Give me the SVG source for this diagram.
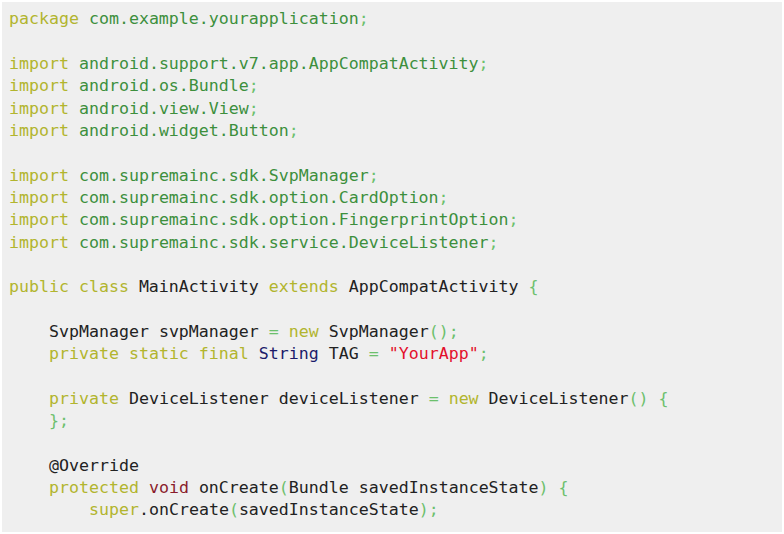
<svg xmlns="http://www.w3.org/2000/svg" width="784" height="534" viewBox="0 0 784 534">
<style>
text{font-family:"DejaVu Sans Mono","Liberation Mono",monospace;font-size:16.6px;fill:#222;white-space:pre}
.k{fill:#b2b52e}.p{fill:#3d8f3d}.o{fill:#6cc06c}.t{fill:#1b1b6a}.s{fill:#e3102c}.v{fill:#8a1c2c}
</style>
<rect x="2" y="2" width="780" height="530" fill="#efefef"/>
<g id="code" xml:space="preserve">
<text x="9" y="24"><tspan class="k">package</tspan> <tspan class="p">com.example.yourapplication</tspan><tspan class="o">;</tspan></text>
<text x="9" y="69"><tspan class="k">import</tspan> <tspan class="p">android.support.v7.app.AppCompatActivity</tspan><tspan class="o">;</tspan></text>
<text x="9" y="91"><tspan class="k">import</tspan> <tspan class="p">android.os.Bundle</tspan><tspan class="o">;</tspan></text>
<text x="9" y="114"><tspan class="k">import</tspan> <tspan class="p">android.view.View</tspan><tspan class="o">;</tspan></text>
<text x="9" y="136"><tspan class="k">import</tspan> <tspan class="p">android.widget.Button</tspan><tspan class="o">;</tspan></text>
<text x="9" y="181"><tspan class="k">import</tspan> <tspan class="p">com.supremainc.sdk.SvpManager</tspan><tspan class="o">;</tspan></text>
<text x="9" y="203"><tspan class="k">import</tspan> <tspan class="p">com.supremainc.sdk.option.CardOption</tspan><tspan class="o">;</tspan></text>
<text x="9" y="225"><tspan class="k">import</tspan> <tspan class="p">com.supremainc.sdk.option.FingerprintOption</tspan><tspan class="o">;</tspan></text>
<text x="9" y="248"><tspan class="k">import</tspan> <tspan class="p">com.supremainc.sdk.service.DeviceListener</tspan><tspan class="o">;</tspan></text>
<text x="9" y="292"><tspan class="k">public class</tspan> MainActivity <tspan class="k">extends</tspan> AppCompatActivity <tspan class="o">{</tspan></text>
<text x="49" y="337">SvpManager svpManager <tspan class="o">=</tspan> <tspan class="k">new</tspan> SvpManager<tspan class="o">();</tspan></text>
<text x="49" y="359"><tspan class="k">private static final</tspan> <tspan class="t">String</tspan> TAG <tspan class="o">=</tspan> <tspan class="s">"YourApp"</tspan><tspan class="o">;</tspan></text>
<text x="49" y="404"><tspan class="k">private</tspan> DeviceListener deviceListener <tspan class="o">=</tspan> <tspan class="k">new</tspan> DeviceListener<tspan class="o">() {</tspan></text>
<text x="49" y="426"><tspan class="o">};</tspan></text>
<text x="49" y="471">@Override</text>
<text x="49" y="493"><tspan class="k">protected</tspan> <tspan class="v">void</tspan> onCreate<tspan class="o">(</tspan>Bundle savedInstanceState<tspan class="o">) {</tspan></text>
<text x="89" y="515"><tspan class="k">super</tspan>.onCreate<tspan class="o">(</tspan>savedInstanceState<tspan class="o">);</tspan></text>
</g>
</svg>
